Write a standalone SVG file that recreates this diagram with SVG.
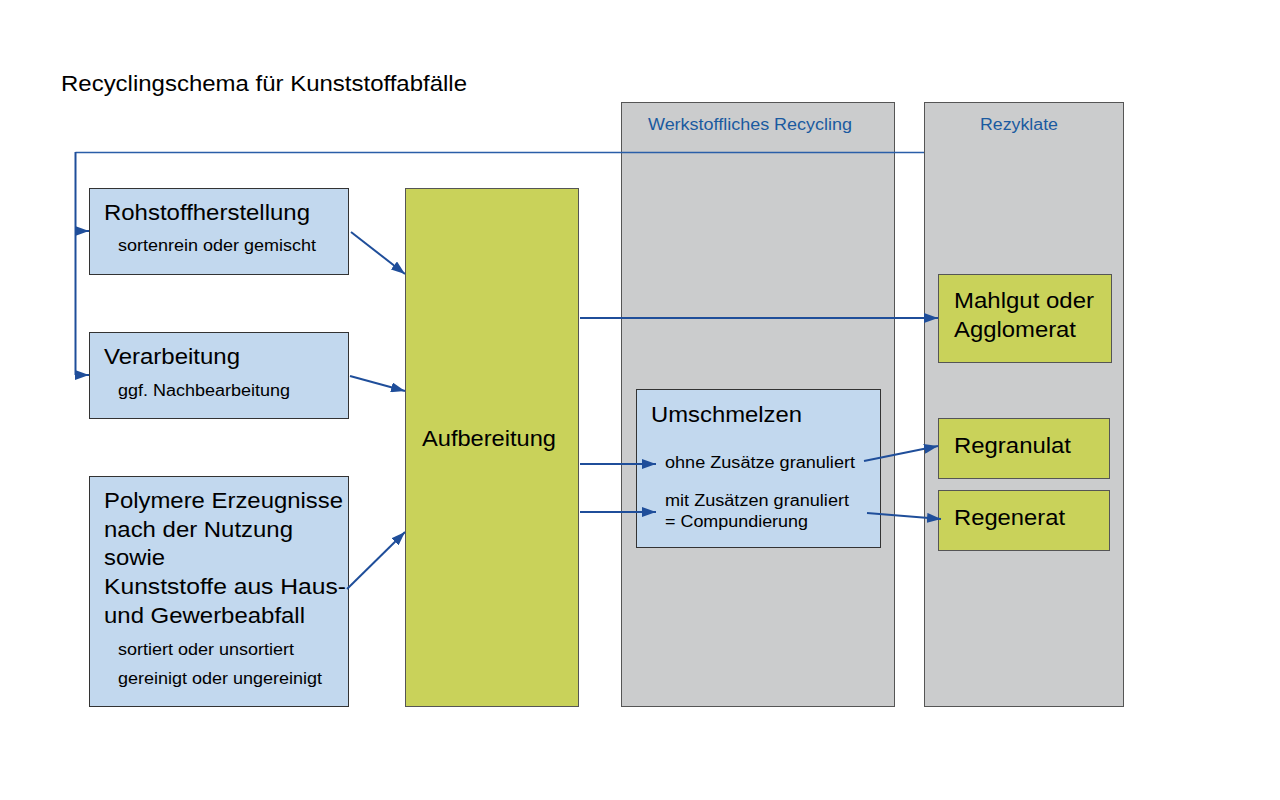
<svg xmlns="http://www.w3.org/2000/svg" width="1280" height="800" viewBox="0 0 1280 800">
<defs>
<marker id="ah" viewBox="0 0 14 10" refX="14" refY="5" markerWidth="14" markerHeight="10" markerUnits="userSpaceOnUse" orient="auto">
<path d="M0,0 L14,5 L0,10 Z" fill="#1f4e9a"/>
</marker>
<style>
text{font-family:"Liberation Sans",Arial,sans-serif;fill:#000}
.big{font-size:22px}
.small{font-size:16px}
.hdr{font-size:16px;fill:#1a5aa0}
.blue{fill:#c2d8ee;stroke:#333;stroke-width:1}
.green{fill:#c9d25a;stroke:#555;stroke-width:1}
.gray{fill:#cbcccd;stroke:#555;stroke-width:1}
.c{fill:none;stroke:#1f4e9a;stroke-width:2}
.cf{fill:none;stroke:#2a5ea8;stroke-width:1.5}
</style>
</defs>
<rect width="1280" height="800" fill="#fff"/>
<text x="61" y="91" style="font-size:22.5px" textLength="406" lengthAdjust="spacingAndGlyphs">Recyclingschema für Kunststoffabfälle</text>

<g id="panel-werkstoff">
<rect class="gray" x="621.5" y="102.5" width="273" height="604"/>
<text class="hdr" x="648" y="130" textLength="204" lengthAdjust="spacingAndGlyphs">Werkstoffliches Recycling</text>
</g>
<g id="panel-rezyklate">
<rect class="gray" x="924.5" y="102.5" width="199" height="604"/>
<text class="hdr" x="980" y="130" textLength="78" lengthAdjust="spacingAndGlyphs">Rezyklate</text>
</g>

<g id="rohstoff">
<rect class="blue" x="89.5" y="188.5" width="259" height="86"/>
<text class="big" x="104" y="220" textLength="206" lengthAdjust="spacingAndGlyphs">Rohstoffherstellung</text>
<text class="small" x="118" y="251" textLength="198" lengthAdjust="spacingAndGlyphs">sortenrein oder gemischt</text>
</g>
<g id="verarbeitung">
<rect class="blue" x="89.5" y="332.5" width="259" height="86"/>
<text class="big" x="104" y="364" textLength="136" lengthAdjust="spacingAndGlyphs">Verarbeitung</text>
<text class="small" x="118" y="396" textLength="172" lengthAdjust="spacingAndGlyphs">ggf. Nachbearbeitung</text>
</g>
<g id="polymere">
<rect class="blue" x="89.5" y="476.5" width="259" height="230"/>
<text class="big" x="104" y="508" textLength="239" lengthAdjust="spacingAndGlyphs">Polymere Erzeugnisse</text>
<text class="big" x="104" y="537" textLength="189" lengthAdjust="spacingAndGlyphs">nach der Nutzung</text>
<text class="big" x="104" y="565" textLength="61" lengthAdjust="spacingAndGlyphs">sowie</text>
<text class="big" x="104" y="594" textLength="242" lengthAdjust="spacingAndGlyphs">Kunststoffe aus Haus-</text>
<text class="big" x="104" y="623" textLength="201" lengthAdjust="spacingAndGlyphs">und Gewerbeabfall</text>
<text class="small" x="118" y="655" textLength="176" lengthAdjust="spacingAndGlyphs">sortiert oder unsortiert</text>
<text class="small" x="118" y="684" textLength="204" lengthAdjust="spacingAndGlyphs">gereinigt oder ungereinigt</text>
</g>
<g id="aufbereitung">
<rect class="green" x="405.5" y="188.5" width="173" height="518"/>
<text class="big" x="422" y="446" textLength="134" lengthAdjust="spacingAndGlyphs">Aufbereitung</text>
</g>
<g id="umschmelzen">
<rect class="blue" x="636.5" y="389.5" width="244" height="158"/>
<text class="big" x="651" y="422" textLength="151" lengthAdjust="spacingAndGlyphs">Umschmelzen</text>
<text class="small" x="665" y="468" textLength="190" lengthAdjust="spacingAndGlyphs">ohne Zusätze granuliert</text>
<text class="small" x="665" y="506" textLength="184" lengthAdjust="spacingAndGlyphs">mit Zusätzen granuliert</text>
<text class="small" x="665" y="527" textLength="143" lengthAdjust="spacingAndGlyphs">= Compundierung</text>
</g>
<g id="mahlgut">
<rect class="green" x="938.5" y="274.5" width="173" height="88"/>
<text class="big" x="954" y="308" textLength="140" lengthAdjust="spacingAndGlyphs">Mahlgut oder</text>
<text class="big" x="954" y="337" textLength="122" lengthAdjust="spacingAndGlyphs">Agglomerat</text>
</g>
<g id="regranulat">
<rect class="green" x="938.5" y="418.5" width="171" height="60"/>
<text class="big" x="954" y="453" textLength="117" lengthAdjust="spacingAndGlyphs">Regranulat</text>
</g>
<g id="regenerat">
<rect class="green" x="938.5" y="490.5" width="171" height="60"/>
<text class="big" x="954" y="525" textLength="111" lengthAdjust="spacingAndGlyphs">Regenerat</text>
</g>

<g id="connectors">
<polyline class="cf" points="924,152.5 75.5,152.5"/>
<polyline class="c" points="75.5,152 75.5,375"/>
<line class="c" x1="75" y1="231" x2="89" y2="231" marker-end="url(#ah)"/>
<line class="c" x1="75" y1="375" x2="89" y2="375" marker-end="url(#ah)"/>
<line class="c" x1="351" y1="232" x2="405" y2="274" marker-end="url(#ah)"/>
<line class="c" x1="350" y1="376" x2="405" y2="391" marker-end="url(#ah)"/>
<line class="c" x1="347" y1="589" x2="405" y2="532" marker-end="url(#ah)"/>
<line class="c" x1="580" y1="318" x2="938" y2="318" marker-end="url(#ah)"/>
<line class="c" x1="580" y1="464" x2="656" y2="464" marker-end="url(#ah)"/>
<line class="c" x1="580" y1="512" x2="656" y2="512" marker-end="url(#ah)"/>
<line class="c" x1="864" y1="461" x2="938" y2="446" marker-end="url(#ah)"/>
<line class="c" x1="867" y1="513" x2="941" y2="519" marker-end="url(#ah)"/>
</g>
</svg>
